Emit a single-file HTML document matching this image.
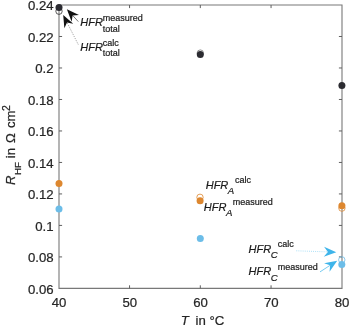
<!DOCTYPE html>
<html lang="en"><head><meta charset="utf-8"><title>HFR chart</title>
<style>html,body{margin:0;padding:0;background:#fff;overflow:hidden}body{width:350px;height:327px;position:relative}</style>
</head><body>
<svg width="350" height="327" viewBox="0 0 350 327" style="display:block;position:absolute;left:0;top:0" font-family="'Liberation Sans', Arial, sans-serif">
<rect width="350" height="327" fill="#fff"/>
<path d="M59.0 5.0H342.0V288.4H59.0Z" fill="none" stroke="#787878" stroke-width="1.1"/>
<path d="M129.55 288.4v-3.1M129.55 5.0v3.1M200.30 288.4v-3.1M200.30 5.0v3.1M271.05 288.4v-3.1M271.05 5.0v3.1M59.0 256.91h3.1M342.0 256.91h-3.1M59.0 225.42h3.1M342.0 225.42h-3.1M59.0 193.93h3.1M342.0 193.93h-3.1M59.0 162.44h3.1M342.0 162.44h-3.1M59.0 130.96h3.1M342.0 130.96h-3.1M59.0 99.47h3.1M342.0 99.47h-3.1M59.0 67.98h3.1M342.0 67.98h-3.1M59.0 36.49h3.1M342.0 36.49h-3.1" fill="none" stroke="#606060" stroke-width="1"/>
<g font-size="13.2" fill="#262626" stroke="#262626" stroke-width="0.22">
<text x="59.00" y="306.9" text-anchor="middle">40</text>
<text x="129.75" y="306.9" text-anchor="middle">50</text>
<text x="200.50" y="306.9" text-anchor="middle">60</text>
<text x="271.25" y="306.9" text-anchor="middle">70</text>
<text x="342.00" y="306.9" text-anchor="middle">80</text>
<text x="53.6" y="293.50" text-anchor="end">0.06</text>
<text x="53.6" y="262.01" text-anchor="end">0.08</text>
<text x="53.6" y="230.52" text-anchor="end">0.1</text>
<text x="53.6" y="199.03" text-anchor="end">0.12</text>
<text x="53.6" y="167.54" text-anchor="end">0.14</text>
<text x="53.6" y="136.06" text-anchor="end">0.16</text>
<text x="53.6" y="104.57" text-anchor="end">0.18</text>
<text x="53.6" y="73.08" text-anchor="end">0.2</text>
<text x="53.6" y="41.59" text-anchor="end">0.22</text>
<text x="53.6" y="10.10" text-anchor="end">0.24</text>
</g>
<g font-size="13.2" fill="#262626" stroke="#262626" stroke-width="0.22">
<text x="180.7" y="325.0"><tspan font-style="italic">T</tspan><tspan x="195.5">in °C</tspan></text>
<text transform="translate(15.00 185.00) rotate(-90)" font-size="13.2" font-style="italic">R</text>
<text transform="translate(21.40 175.00) rotate(-90)" font-size="9.8">HF</text>
<text transform="translate(15.00 158.30) rotate(-90)" font-size="13.2">in</text>
<text transform="translate(15.00 143.00) rotate(-90)" font-size="13.2">Ω</text>
<text transform="translate(15.00 128.00) rotate(-90)" font-size="13.2">cm</text>
<text transform="translate(9.50 111.00) rotate(-90)" font-size="10.6">2</text>
</g>
<circle cx="59.00" cy="11.20" r="3.2" fill="none" stroke="#333" stroke-width="0.8"/>
<circle cx="200.30" cy="53.10" r="3.2" fill="none" stroke="#777" stroke-width="0.8"/>
<circle cx="200.00" cy="197.30" r="3.2" fill="none" stroke="#dd872f" stroke-width="0.8"/>
<circle cx="341.90" cy="208.10" r="3.2" fill="none" stroke="#dd872f" stroke-width="0.8"/>
<circle cx="341.80" cy="259.90" r="3.2" fill="none" stroke="#6cbde8" stroke-width="0.8"/>
<circle cx="59.00" cy="7.60" r="3.5" fill="#2b2b31"/>
<circle cx="200.30" cy="54.40" r="3.5" fill="#2b2b31"/>
<circle cx="341.90" cy="85.40" r="3.5" fill="#2b2b31"/>
<circle cx="59.00" cy="183.50" r="3.5" fill="#dd872f"/>
<circle cx="200.10" cy="200.80" r="3.5" fill="#dd872f"/>
<circle cx="341.90" cy="205.70" r="3.5" fill="#dd872f"/>
<circle cx="59.00" cy="209.00" r="3.5" fill="#6cbde8"/>
<circle cx="200.30" cy="238.50" r="3.5" fill="#6cbde8"/>
<circle cx="341.80" cy="264.50" r="3.5" fill="#6cbde8"/>
<text x="80.3" y="25.8" font-size="11.0" fill="#1a1a1a" stroke="#1a1a1a" stroke-width="0.2" font-style="italic">HFR</text>
<text x="102.8" y="31.80" font-size="9.0" fill="#1a1a1a" stroke="#1a1a1a" stroke-width="0.2">total</text>
<text x="102.8" y="21.40" font-size="9.0" fill="#1a1a1a" stroke="#1a1a1a" stroke-width="0.2">measured</text>
<text x="80.3" y="50.6" font-size="11.0" fill="#1a1a1a" stroke="#1a1a1a" stroke-width="0.2" font-style="italic">HFR</text>
<text x="102.8" y="56.40" font-size="9.0" fill="#1a1a1a" stroke="#1a1a1a" stroke-width="0.2">total</text>
<text x="102.8" y="46.00" font-size="9.0" fill="#1a1a1a" stroke="#1a1a1a" stroke-width="0.2">calc</text>
<text x="205.7" y="188.9" font-size="11.0" fill="#1a1a1a" stroke="#1a1a1a" stroke-width="0.2" font-style="italic">HFR</text>
<text x="227.8" y="193.90" font-size="9.6" fill="#1a1a1a" stroke="#1a1a1a" stroke-width="0.2" font-style="italic">A</text>
<text x="234.9" y="183.00" font-size="9.0" fill="#1a1a1a" stroke="#1a1a1a" stroke-width="0.2">calc</text>
<text x="203.8" y="210.5" font-size="11.0" fill="#1a1a1a" stroke="#1a1a1a" stroke-width="0.2" font-style="italic">HFR</text>
<text x="225.9" y="216.40" font-size="9.6" fill="#1a1a1a" stroke="#1a1a1a" stroke-width="0.2" font-style="italic">A</text>
<text x="232.7" y="205.00" font-size="9.0" fill="#1a1a1a" stroke="#1a1a1a" stroke-width="0.2">measured</text>
<text x="248.5" y="252.7" font-size="11.0" fill="#1a1a1a" stroke="#1a1a1a" stroke-width="0.2" font-style="italic">HFR</text>
<text x="270.8" y="258.40" font-size="9.6" fill="#1a1a1a" stroke="#1a1a1a" stroke-width="0.2" font-style="italic">C</text>
<text x="277.7" y="247.20" font-size="9.0" fill="#1a1a1a" stroke="#1a1a1a" stroke-width="0.2">calc</text>
<text x="248.5" y="274.7" font-size="11.0" fill="#1a1a1a" stroke="#1a1a1a" stroke-width="0.2" font-style="italic">HFR</text>
<text x="270.8" y="280.90" font-size="9.6" fill="#1a1a1a" stroke="#1a1a1a" stroke-width="0.2" font-style="italic">C</text>
<text x="277.7" y="270.30" font-size="9.0" fill="#1a1a1a" stroke="#1a1a1a" stroke-width="0.2">measured</text>
<path d="M78.30 21.60L72.61 15.41" stroke="#3a3a3a" stroke-width="0.7" fill="none"/>
<path d="M66.90 9.20L78.97 14.94L72.61 15.41L71.61 21.71Z" fill="#111"/>
<path d="M78.20 44.40L67.03 22.51" stroke="#6a6a6a" stroke-width="0.8" fill="none" stroke-dasharray="0.8 1.3"/>
<path d="M63.20 15.00L73.29 23.77L67.03 22.51L64.38 28.32Z" fill="#111"/>
<path d="M296.40 250.80L327.87 251.90" stroke="#7fcff2" stroke-width="0.8" fill="none" stroke-dasharray="0.8 1.3"/>
<path d="M336.30 252.20L323.73 256.76L327.87 251.90L324.08 246.77Z" fill="#3db4ea"/>
<path d="M320.00 271.90L330.13 265.30" stroke="#3db4ea" stroke-width="0.7" fill="none"/>
<path d="M337.20 260.70L329.54 271.66L330.13 265.30L324.08 263.28Z" fill="#3db4ea"/>
</svg>
</body></html>
